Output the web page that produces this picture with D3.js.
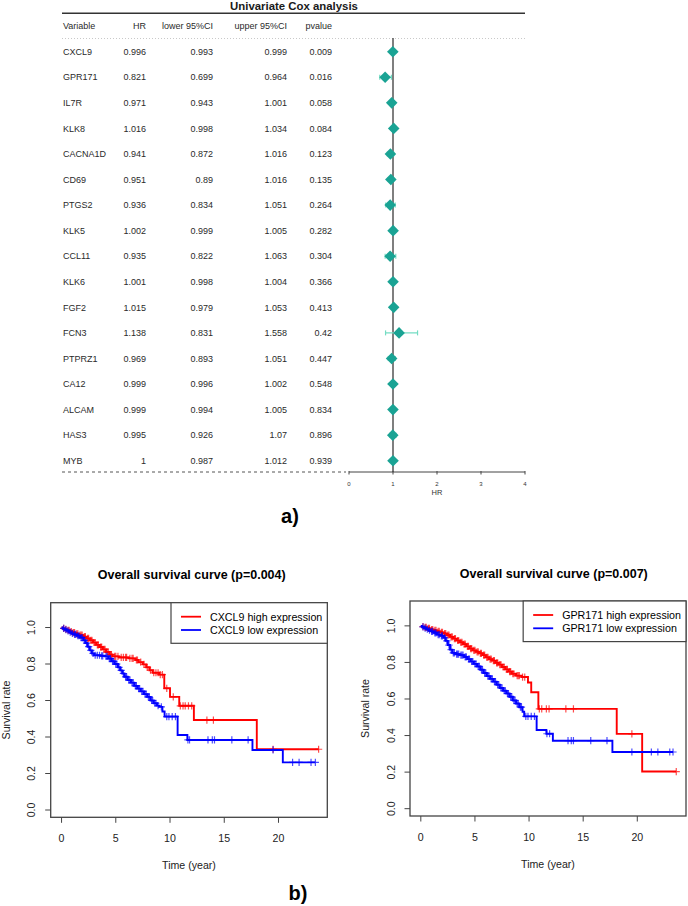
<!DOCTYPE html>
<html><head><meta charset="utf-8">
<script src="https://cdn.jsdelivr.net/npm/d3@7"></script>
<style>body{margin:0;background:#fff} svg{display:block;font-family:"Liberation Sans",Arial,Helvetica,sans-serif}</style>
</head><body><svg id="c" width="688" height="906"></svg>
<script>
// ---------- Forest plot data ----------
const variables = ["CXCL9","GPR171","IL7R","KLK8","CACNA1D","CD69","PTGS2","KLK5","CCL11","KLK6","FGF2","FCN3","PTPRZ1","CA12","ALCAM","HAS3","MYB"];
const hrLabels = ["0.996","0.821","0.971","1.016","0.941","0.951","0.936","1.002","0.935","1.001","1.015","1.138","0.969","0.999","0.999","0.995","1"];
const lowerLabels = ["0.993","0.699","0.943","0.998","0.872","0.89","0.834","0.999","0.822","0.998","0.979","0.831","0.893","0.996","0.994","0.926","0.987"];
const upperLabels = ["0.999","0.964","1.001","1.034","1.016","1.016","1.051","1.005","1.063","1.004","1.053","1.558","1.051","1.002","1.005","1.07","1.012"];
const pvalueLabels = ["0.009","0.016","0.058","0.084","0.123","0.135","0.264","0.282","0.304","0.366","0.413","0.42","0.447","0.548","0.834","0.896","0.939"];
const headers = ["Variable","HR","lower 95%CI","upper 95%CI","pvalue"];
const hrAxisTicks = [0,1,2,3,4];

// ---------- KM data (step knots: time, survival after event) ----------
const cxcl9HighTimes = [0.1,0.3,0.5,0.8,1.0,1.3,1.6,2.0,2.3,2.6,2.9,3.2,3.5,3.8,4.1,4.4,4.7,5.3,6.2,6.8,7.1,7.5,7.8,8.1,8.4,9.0,9.47,10.0,10.85,12.2,18.0];
const cxcl9HighSurv  = [0.995,0.99,0.985,0.978,0.972,0.965,0.958,0.95,0.94,0.93,0.918,0.905,0.893,0.88,0.866,0.852,0.842,0.836,0.831,0.822,0.81,0.798,0.782,0.766,0.752,0.742,0.667,0.62,0.571,0.493,0.333];
const cxcl9HighCensor = [0.2,0.4,0.6,0.7,0.9,1.1,1.2,1.4,1.5,1.7,1.8,1.9,2.1,2.2,2.4,2.5,2.7,2.8,3.0,3.1,3.3,3.4,3.6,3.7,3.9,4.0,4.2,4.3,4.5,4.6,4.9,5.0,5.2,5.5,5.7,5.9,6.0,6.3,6.5,6.6,6.9,7.0,7.3,7.6,7.9,8.2,8.5,8.7,8.9,9.1,9.3,9.7,10.3,10.95,11.2,11.4,11.7,12.0,13.4,14.0,19.5,23.7];

const cxcl9LowTimes = [0.1,0.3,0.5,0.7,0.9,1.1,1.4,1.7,2.0,2.2,2.4,2.6,2.8,3.0,3.6,4.0,4.3,4.6,4.9,5.2,5.4,5.6,5.8,6.1,6.4,6.7,7.0,7.3,7.6,7.9,8.2,8.5,8.8,9.0,9.3,9.5,10.7,11.6,17.6,20.4];
const cxcl9LowSurv  = [0.995,0.988,0.982,0.975,0.968,0.962,0.955,0.945,0.93,0.915,0.895,0.875,0.858,0.848,0.845,0.842,0.83,0.815,0.8,0.782,0.765,0.748,0.73,0.712,0.698,0.68,0.665,0.65,0.635,0.62,0.6,0.585,0.572,0.565,0.54,0.512,0.411,0.384,0.329,0.261];
const cxcl9LowCensor = [0.2,0.4,0.6,0.8,1.0,1.2,1.3,1.5,1.6,1.8,1.9,2.1,2.3,2.5,2.7,2.9,3.1,3.3,3.5,3.7,3.8,4.1,4.2,4.4,4.5,4.7,4.8,5.0,5.1,5.3,5.5,5.7,5.9,6.0,6.2,6.3,6.5,6.6,6.8,6.9,7.1,7.2,7.4,7.5,7.7,7.8,8.0,8.1,8.3,8.4,8.6,8.7,8.9,9.2,9.7,9.9,10.2,10.5,11.65,11.8,13.5,13.9,14.1,15.7,17.2,19.5,21.3,21.9,23.0,23.4];

const gpr171HighTimes = [0.1,0.3,0.6,0.9,1.2,1.5,1.8,2.1,2.4,2.7,3.0,3.3,3.6,3.9,4.2,4.5,4.8,5.1,5.4,5.7,6.0,6.3,6.6,6.9,7.2,7.5,7.8,8.1,8.4,8.8,9.3,9.9,10.2,10.86,18.1,20.45];
const gpr171HighSurv  = [0.996,0.992,0.986,0.98,0.975,0.97,0.964,0.958,0.95,0.94,0.93,0.92,0.91,0.9,0.888,0.876,0.866,0.858,0.85,0.84,0.828,0.818,0.81,0.798,0.788,0.775,0.762,0.75,0.738,0.728,0.72,0.69,0.637,0.546,0.409,0.203];
const gpr171HighCensor = [0.2,0.4,0.5,0.7,0.8,1.0,1.1,1.3,1.4,1.6,1.7,1.9,2.0,2.2,2.3,2.5,2.6,2.8,2.9,3.1,3.2,3.4,3.5,3.7,3.8,4.0,4.1,4.3,4.4,4.6,4.7,4.9,5.0,5.2,5.3,5.5,5.6,5.8,5.9,6.1,6.2,6.4,6.5,6.7,6.8,7.0,7.1,7.3,7.4,7.6,7.7,7.9,8.0,8.2,8.3,8.5,8.6,8.9,9.0,9.1,9.4,9.6,10.95,11.17,11.6,11.85,13.4,14.1,19.5,23.6];

const gpr171LowTimes = [0.1,0.3,0.5,0.7,0.9,1.2,1.5,1.8,2.1,2.3,2.5,2.7,2.9,3.2,3.6,4.0,4.3,4.6,4.9,5.2,5.5,5.8,6.1,6.4,6.7,7.0,7.3,7.6,7.9,8.2,8.5,8.8,9.1,9.4,9.55,10.7,11.6,12.2,17.7];
const gpr171LowSurv  = [0.995,0.988,0.982,0.976,0.97,0.962,0.952,0.945,0.935,0.918,0.895,0.87,0.852,0.845,0.84,0.83,0.818,0.805,0.792,0.778,0.76,0.742,0.725,0.71,0.695,0.678,0.66,0.645,0.63,0.612,0.592,0.575,0.555,0.53,0.505,0.43,0.41,0.372,0.31];
const gpr171LowCensor = [0.2,0.4,0.6,0.8,1.0,1.1,1.3,1.4,1.6,1.7,1.9,2.0,2.2,2.4,2.6,2.8,3.0,3.1,3.3,3.4,3.5,3.7,3.8,3.9,4.1,4.2,4.4,4.5,4.7,4.8,5.0,5.1,5.3,5.4,5.6,5.7,5.9,6.0,6.2,6.3,6.5,6.6,6.8,6.9,7.1,7.2,7.4,7.5,7.7,7.8,8.0,8.1,8.3,8.4,8.6,8.7,8.9,9.0,9.2,9.3,9.7,9.9,10.2,10.5,11.65,11.9,13.6,13.9,14.1,15.7,17.2,19.5,21.3,21.9,23.0,23.3];

const timeTicks = [0,5,10,15,20];
const survTicks = [0.0,0.2,0.4,0.6,0.8,1.0];
const panelTitles = ["Overall survival curve (p=0.004)","Overall survival curve (p=0.007)"];
const legendLabels = [["CXCL9 high expression","CXCL9 low expression"],["GPR171 high expression","GPR171 low expression"]];
const groupColors = ["#ff0000","#0000ff"];

// ---------- Drawing ----------
const svg = d3.select("#c");
const ink = "#1a1a1a";

// Forest plot
const xF = d3.scaleLinear().domain([0,4]).range([349,525]);
const yRow = d3.scalePoint().domain(variables).range([51.7,460.7]);
const colX = [63,146,213,287,332];
const colAnchor = ["start","end","end","end","end"];

svg.append("text").attr("x",294).attr("y",10).attr("text-anchor","middle")
  .attr("font-weight","bold").attr("font-size",11.4).attr("fill",ink).text("Univariate Cox analysis");
svg.append("line").attr("x1",62).attr("x2",525).attr("y1",13.3).attr("y2",13.3).attr("stroke","#333").attr("stroke-width",1.5);
headers.forEach((h,i)=>{
  svg.append("text").attr("x",colX[i]).attr("y",29.2).attr("text-anchor",colAnchor[i])
    .attr("font-size",9).attr("fill","#2a2a2a").text(h);
});
svg.append("line").attr("x1",62).attr("x2",525).attr("y1",38.5).attr("y2",38.5)
  .attr("stroke","#bbb").attr("stroke-width",0.8).attr("stroke-dasharray","1,2");

const cols = [variables,hrLabels,lowerLabels,upperLabels,pvalueLabels];
variables.forEach((v,r)=>{
  cols.forEach((c,i)=>{
    svg.append("text").attr("x",colX[i]).attr("y",yRow(v)+3.2).attr("text-anchor",colAnchor[i])
      .attr("font-size",9).attr("fill","#2a2a2a").text(c[r]);
  });
});
svg.append("line").attr("x1",62).attr("x2",346).attr("y1",472).attr("y2",472)
  .attr("stroke","#555").attr("stroke-width",1).attr("stroke-dasharray","3,3");

// vertical line at HR=1
svg.append("line").attr("x1",xF(1)).attr("x2",xF(1)).attr("y1",38).attr("y2",472)
  .attr("stroke","#555").attr("stroke-width",1.5);

// CIs and diamonds
const ciG = svg.append("g");
variables.forEach((v,r)=>{
  const y = yRow(v), lo = +lowerLabels[r], up = +upperLabels[r], h = +hrLabels[r];
  ciG.append("line").attr("x1",xF(lo)).attr("x2",xF(up)).attr("y1",y).attr("y2",y).attr("stroke","#74dcc3").attr("stroke-width",1.2);
  [lo,up].forEach(e=>ciG.append("line").attr("x1",xF(e)).attr("x2",xF(e)).attr("y1",y-2.5).attr("y2",y+2.5).attr("stroke","#74dcc3").attr("stroke-width",1.2));
  const cx = xF(h), d=5.8;
  ciG.append("path").attr("d",`M${cx-d},${y}L${cx},${y-d}L${cx+d},${y}L${cx},${y+d}Z`).attr("fill","#1aa394");
});

// forest axis
const axF = svg.append("g").attr("transform","translate(0,472)");
axF.append("line").attr("x1",xF(0)).attr("x2",xF(4)).attr("stroke","#444").attr("stroke-width",1);
hrAxisTicks.forEach(t=>{
  axF.append("line").attr("x1",xF(t)).attr("x2",xF(t)).attr("y1",-1).attr("y2",2.5).attr("stroke","#444");
  axF.append("text").attr("x",xF(t)).attr("y",14).attr("text-anchor","middle").attr("font-size",6).attr("fill","#333").text(t);
});
axF.append("text").attr("x",xF(2)).attr("y",23).attr("text-anchor","middle").attr("font-size",7.5).attr("fill","#333").text("HR");

svg.append("text").attr("x",290).attr("y",523).attr("text-anchor","middle").attr("font-weight","bold").attr("font-size",20).attr("fill","#000").text("a)");
svg.append("text").attr("x",298).attr("y",900).attr("text-anchor","middle").attr("font-weight","bold").attr("font-size",20).attr("fill","#000").text("b)");

// KM panels
const panels = [
  {box:[50.7,327.3,602.7,817.3], titleX:191.7, curves:[[cxcl9HighTimes,cxcl9HighSurv,cxcl9HighCensor],[cxcl9LowTimes,cxcl9LowSurv,cxcl9LowCensor]]},
  {box:[410,686,601,816], titleX:553.8, curves:[[gpr171HighTimes,gpr171HighSurv,gpr171HighCensor],[gpr171LowTimes,gpr171LowSurv,gpr171LowCensor]]}
];

panels.forEach((p,pi)=>{
  const [x0,x1,y0,y1] = p.box;
  const x = d3.scaleLinear().domain([-1.0,24.5]).range([x0,x1]);
  const y = d3.scaleLinear().domain([-0.04,1.136]).range([y1,y0]);
  const g = svg.append("g");
  const fs = 10.6;

  g.append("text").attr("x",p.titleX).attr("y",y0-23.5).attr("text-anchor","middle").attr("font-weight","bold")
    .attr("font-size",12.5).attr("fill","#000").text(panelTitles[pi]);

  // curves
  const clipId = "clip"+pi;
  svg.append("clipPath").attr("id",clipId).append("rect").attr("x",x0).attr("y",y0).attr("width",x1-x0).attr("height",y1-y0);
  const cg = g.append("g").attr("clip-path",`url(#${clipId})`);
  p.curves.forEach((c,ci)=>{
    const [times,surv,cens] = c;
    const end = d3.max(cens);
    const pts = [[0,1]].concat(times.map((t,i)=>[t,surv[i]]));
    pts.push([end,surv[surv.length-1]]);
    const line = d3.line().x(d=>x(d[0])).y(d=>y(d[1])).curve(d3.curveStepAfter);
    cg.append("path").attr("d",line(pts)).attr("fill","none").attr("stroke",groupColors[ci]).attr("stroke-width",1.9);
    const survAt = t => { let s=1; times.forEach((tt,i)=>{ if(tt<=t) s=surv[i]; }); return s; };
    cens.forEach(t=>{
      const cx=x(t), cy=y(survAt(t)), r=3.6;
      cg.append("path").attr("d",`M${cx-r},${cy}H${cx+r}M${cx},${cy-r}V${cy+r}`)
        .attr("stroke",groupColors[ci]).attr("stroke-width",1.2).attr("stroke-opacity",0.7).attr("fill","none");
    });
  });

  // box
  g.append("rect").attr("x",x0).attr("y",y0).attr("width",x1-x0).attr("height",y1-y0)
    .attr("fill","none").attr("stroke","#444").attr("stroke-width",1.3);

  // y axis
  survTicks.forEach(s=>{
    g.append("line").attr("x1",x0-5.5).attr("x2",x0).attr("y1",y(s)).attr("y2",y(s)).attr("stroke","#444");
    g.append("text").attr("transform",`translate(${x0-19.5},${y(s)}) rotate(-90)`).attr("text-anchor","middle")
      .attr("dominant-baseline","central").attr("font-size",fs).attr("fill","#222").text(s.toFixed(1));
  });
  // x axis
  timeTicks.forEach(t=>{
    g.append("line").attr("x1",x(t)).attr("x2",x(t)).attr("y1",y1).attr("y2",y1+5.5).attr("stroke","#444");
    g.append("text").attr("x",x(t)).attr("y",y1+21).attr("text-anchor","middle").attr("dominant-baseline","central")
      .attr("font-size",fs).attr("fill","#222").text(t);
  });
  g.append("text").attr("x",(x0+x1)/2).attr("y",y1+48).attr("text-anchor","middle").attr("dominant-baseline","central")
    .attr("font-size",fs).attr("fill","#222").text("Time (year)");
  g.append("text").attr("transform",`translate(${x0-44.7},${(y0+y1)/2}) rotate(-90)`).attr("text-anchor","middle")
    .attr("dominant-baseline","central").attr("font-size",fs).attr("fill","#222").text("Survival rate");

  // legend
  const lg = g.append("g");
  const texts = legendLabels[pi].map((lab,i)=>lg.append("text").attr("font-size",10.7).attr("fill","#000")
    .attr("dominant-baseline","central").text(lab));
  const tw = d3.max(texts.map(t=>t.node().getComputedTextLength()));
  const lw = 10+20+9+tw+5;
  const lx = x1-lw;
  lg.insert("rect",":first-child").attr("x",lx).attr("y",y0).attr("width",lw).attr("height",40.6)
    .attr("fill","#fff").attr("stroke","#444").attr("stroke-width",1.2);
  [14,27.3].forEach((dy,i)=>{
    lg.append("line").attr("x1",lx+10).attr("x2",lx+30).attr("y1",y0+dy).attr("y2",y0+dy).attr("stroke",groupColors[i]).attr("stroke-width",1.8);
    texts[i].attr("x",lx+39).attr("y",y0+dy);
  });
});
</script>
</body></html>
